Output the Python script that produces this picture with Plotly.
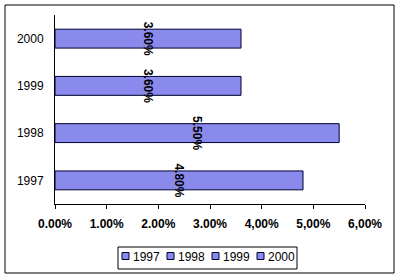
import plotly.graph_objects as go

years = ["1997", "1998", "1999", "2000"]
values = [4.80, 5.50, 3.60, 3.60]
value_labels = ["4.80%", "5.50%", "3.60%", "3.60%"]
tick_vals = [0, 1, 2, 3, 4, 5, 6]
tick_text = ["0.00%", "1.00%", "2.00%", "3.00%", "4,00%", "5,00%", "6,00%"]

BAR_COLOR = "#8a8aec"
EDGE_COLOR = "#000033"

fig = go.Figure()
for yr, v in zip(years, values):
    fig.add_trace(go.Bar(
        x=[v], y=[yr], name=yr, orientation="h", width=0.4,
        marker=dict(color=BAR_COLOR, line=dict(color=EDGE_COLOR, width=1)),
        hoverinfo="skip", showlegend=False,
    ))

# data labels (rotated, centred on each bar)
for i, (v, lab) in enumerate(zip(values, value_labels)):
    fig.add_annotation(
        x=v / 2, y=i, xref="x", yref="y", text="<b>" + lab + "</b>", showarrow=False,
        textangle=90, font=dict(family="Arial", size=12, color="black"),
    )

L, R, T, B = 55, 35, 15, 75
pw, ph = 400 - L - R, 279 - T - B

def px_x(p):
    return (p - L) / pw

def px_y(p):
    return (279 - B - p) / ph

# custom compact legend
shapes = [dict(
    type="rect", xref="paper", yref="paper",
    x0=px_x(5), x1=px_x(394), y0=px_y(273), y1=px_y(5),
    line=dict(color="black", width=1), fillcolor="rgba(0,0,0,0)", layer="below",
), dict(
    type="rect", xref="paper", yref="paper",
    x0=px_x(118), x1=px_x(297), y0=px_y(269), y1=px_y(247),
    line=dict(color="black", width=1), fillcolor="white", layer="below",
)]
for k, yr in enumerate(years):
    sx = 122 + 45 * k
    shapes.append(dict(
        type="rect", xref="paper", yref="paper",
        x0=px_x(sx), x1=px_x(sx + 7), y0=px_y(259.5), y1=px_y(252.5),
        line=dict(color=EDGE_COLOR, width=1), fillcolor=BAR_COLOR, layer="above",
    ))
    fig.add_annotation(
        x=px_x(sx + 9), y=px_y(257), xref="paper", yref="paper", text=yr,
        showarrow=False, xanchor="left", yanchor="middle",
        font=dict(family="Arial", size=12, color="black"),
    )

fig.update_layout(
    width=400, height=279,
    margin=dict(l=L, r=R, t=T, b=B, autoexpand=False),
    paper_bgcolor="white", plot_bgcolor="white",
    barmode="overlay",
    showlegend=False,
    xaxis=dict(
        range=[0, 6], tickvals=tick_vals, ticktext=tick_text,
        showline=True, linecolor="black", linewidth=1, ticks="outside", ticklen=4,
        tickcolor="black", showgrid=False, zeroline=False, ticklabelstandoff=5,
        tickfont=dict(family="Arial", size=12, color="black", weight="bold"),
        fixedrange=True,
    ),
    yaxis=dict(
        type="category", categoryorder="array", categoryarray=years, range=[-0.5, 3.5],
        showline=True, linecolor="black", linewidth=1, ticks="", showgrid=False,
        zeroline=False, ticklabelstandoff=8,
        tickfont=dict(family="Arial", size=12, color="black"),
        fixedrange=True,
    ),
    shapes=shapes,
)

fig.write_html("out.html", config={"displayModeBar": False})
